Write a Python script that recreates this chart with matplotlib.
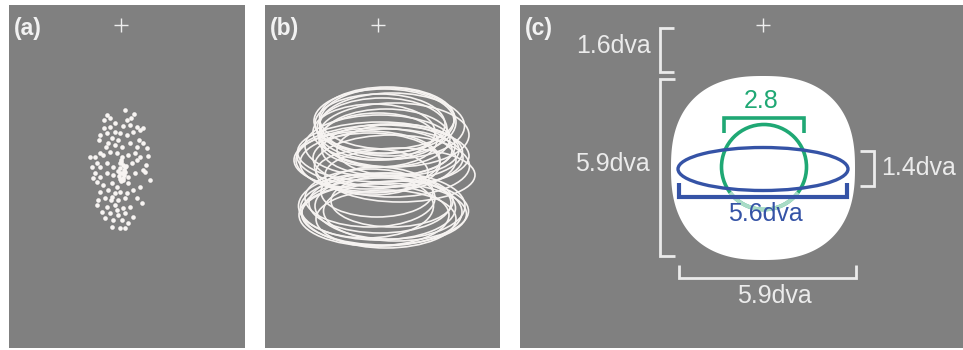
import numpy as np
import matplotlib
matplotlib.use("Agg")
import matplotlib.pyplot as plt
from matplotlib.patches import Ellipse, Circle, Arc, Polygon

plt.rcParams['font.family'] = ['Liberation Sans', 'DejaVu Sans']

W, H = 963, 350
GRAY = '#808080'
TXT = '#ebebeb'
BLUE = '#3553a6'
GREEN = '#1fa874'
LGREEN = '#a9dcc6'

# ---------------- data ----------------
panel_labels = ['(a)', '(b)', '(c)']
# panel bounds in pixels: x0, x1, y0, y1
panel_x0 = [9, 265, 520]
panel_x1 = [245, 500, 963]
panel_y0 = [5, 5, 5]
panel_y1 = [348, 348, 348]
cross_x = [121, 378, 763]
cross_y = [25, 25, 25]

# panel (a): dot positions (pixels)
dot_x = [125, 107, 110, 134, 127, 104, 115, 110, 123, 130, 137, 143, 100, 107,
         115, 120, 127, 133, 140, 112, 118, 108, 115, 122, 130, 137, 143, 147,
         106, 100, 95, 90, 97, 103, 110, 117, 122, 128, 135, 140, 148, 92, 100,
         107, 113, 120, 125, 132, 137, 143, 150, 145, 95, 100, 107, 113, 120,
         123, 128, 135, 97, 103, 112, 117, 128, 140, 100, 108, 115, 120, 127,
         133, 98, 105, 112, 118, 125, 137, 142, 97, 107, 115, 123, 130, 102,
         110, 118, 125, 133, 105, 113, 122, 128, 112, 120, 125,
         121, 123, 120, 124, 122, 119, 123, 121, 125, 120, 126, 118, 124, 121,
         93, 146, 99, 139, 104, 131, 117, 111]
dot_y = [110, 115, 118, 114, 120, 128, 123, 127, 126, 125, 127, 128, 135, 133,
         132, 133, 135, 132, 130, 138, 140, 143, 145, 147, 143, 147, 143, 148,
         147, 153, 157, 157, 163, 155, 152, 153, 157, 155, 153, 157, 156, 167,
         167, 163, 167, 163, 167, 163, 160, 170, 180, 172, 173, 177, 173, 175,
         173, 180, 177, 173, 182, 185, 183, 187, 183, 187, 192, 190, 193, 192,
         193, 190, 200, 198, 197, 200, 198, 198, 203, 205, 207, 205, 208, 207,
         212, 213, 215, 213, 217, 218, 220, 220, 223, 227, 228, 228,
         162, 165, 168, 170, 173, 176, 178, 181, 172, 179, 166, 171, 175, 160,
         178, 165, 140, 140, 120, 118, 210, 200]

# panel (b): ellipses (center x, center y, width, height) in pixels
ell_cx = [387, 384, 380, 392, 382, 374, 394, 388, 378, 386,
          380, 383, 376, 388, 370, 392, 380, 387, 372, 398, 367, 400,
          378, 382, 374, 390, 380, 370, 386, 392, 377, 384, 366, 396]
ell_cy = [118, 121, 124, 126, 129, 132, 135, 122, 140, 138,
          152, 156, 160, 158, 163, 166, 146, 150, 172, 150, 160, 175,
          208, 212, 215, 206, 203, 198, 219, 201, 192, 214, 206, 211]
ell_w = [135, 140, 130, 145, 130, 122, 150, 136, 118, 128,
         165, 172, 160, 150, 140, 155, 150, 130, 112, 122, 146, 150,
         155, 160, 150, 150, 142, 130, 140, 122, 112, 165, 135, 145]
ell_h = [62, 64, 60, 66, 62, 56, 64, 68, 54, 58,
         60, 62, 64, 58, 60, 62, 62, 52, 46, 52, 58, 54,
         64, 68, 62, 66, 60, 58, 58, 52, 50, 62, 64, 60]

# panel (c): stimulus geometry (pixels)
blob_center = (763, 168)
blob_size = (184, 184)
ring_center = (764, 167)
ring_diam = 85
ell_center = (763, 169)
ell_size = (170, 43)
dim_labels = ['1.6dva', '5.9dva', '5.9dva', '1.4dva', '5.6dva', '2.8']

# ---------------- figure ----------------
fig = plt.figure(figsize=(W / 100, H / 100), dpi=100)
fig.patch.set_facecolor('white')

axes = []
for i in range(3):
    x0, x1, y0, y1 = panel_x0[i], panel_x1[i], panel_y0[i], panel_y1[i]
    ax = fig.add_axes([x0 / W, 1 - y1 / H, (x1 - x0) / W, (y1 - y0) / H])
    ax.set_xlim(x0, x1)
    ax.set_ylim(y1, y0)
    ax.set_facecolor(GRAY)
    ax.set_xticks([])
    ax.set_yticks([])
    for s in ax.spines.values():
        s.set_visible(False)
    ax.text(x0 + 5, 29, panel_labels[i], color='#f2f2f2', fontsize=16.5,
            fontweight='bold', ha='left', va='center')
    ax.plot(cross_x[i], cross_y[i], marker='+', color='#eeeeee',
            markersize=10, mew=1.0)
    axes.append(ax)

# (a) dots
axes[0].scatter(dot_x, dot_y, s=11, color='#f7f4f2', linewidths=0, zorder=3)

# (b) ellipses
for cx, cy, w, h in zip(ell_cx, ell_cy, ell_w, ell_h):
    axes[1].add_patch(Ellipse((cx, cy), w, h, fill=False, ec='#f6f3f1',
                              lw=1.2, zorder=3))

# (c) stimulus
ax = axes[2]
bx, by = blob_center
a, b = blob_size[0] / 2, blob_size[1] / 2
t = np.linspace(0, 2 * np.pi, 400)
n = 2.45
px = bx + a * np.sign(np.cos(t)) * np.abs(np.cos(t)) ** (2 / n)
py = by + b * np.sign(np.sin(t)) * np.abs(np.sin(t)) ** (2 / n)
ax.add_patch(Polygon(np.column_stack([px, py]), closed=True, fc='white',
                     ec='none', zorder=2))

ax.add_patch(Circle(ring_center, ring_diam / 2, fill=False, ec=GREEN, lw=2.6,
                    zorder=3))
ax.add_patch(Arc(ring_center, ring_diam, ring_diam, theta1=37, theta2=143,
                 ec=LGREEN, lw=2.8, zorder=3.5))
ax.add_patch(Ellipse(ell_center, ell_size[0], ell_size[1], fill=False,
                     ec=BLUE, lw=2.4, zorder=4))


def bracket(ax, pts, color, lw):
    xs = [p[0] for p in pts]
    ys = [p[1] for p in pts]
    ax.plot(xs, ys, color=color, lw=lw, solid_joinstyle='miter',
            solid_capstyle='butt', zorder=5)


# white brackets
bracket(ax, [(674, 28), (660, 28), (660, 72), (674, 72)], TXT, 2.0)
bracket(ax, [(675, 79), (660, 79), (660, 256), (675, 256)], TXT, 2.0)
bracket(ax, [(679, 265), (679, 278), (856, 278), (856, 265)], TXT, 2.0)
bracket(ax, [(860, 151), (874, 151), (874, 186), (860, 186)], TXT, 2.0)
# blue & green brackets
bracket(ax, [(679, 183), (679, 197), (847, 197), (847, 183)], BLUE, 3.0)
bracket(ax, [(724, 133), (724, 118), (804, 118), (804, 133)], GREEN, 2.6)

fs = 18
ax.text(651, 46, dim_labels[0], color=TXT, fontsize=fs, ha='right', va='center')
ax.text(650, 164, dim_labels[1], color=TXT, fontsize=fs, ha='right', va='center')
ax.text(774, 296, dim_labels[2], color=TXT, fontsize=fs, ha='center', va='center')
ax.text(881, 168, dim_labels[3], color=TXT, fontsize=fs, ha='left', va='center')
ax.text(765, 214, dim_labels[4], color=BLUE, fontsize=fs, ha='center', va='center',
        zorder=6)
ax.text(761, 101, dim_labels[5], color=GREEN, fontsize=fs, ha='center', va='center',
        zorder=6)

fig.savefig('out.png', dpi=100, facecolor='white')
